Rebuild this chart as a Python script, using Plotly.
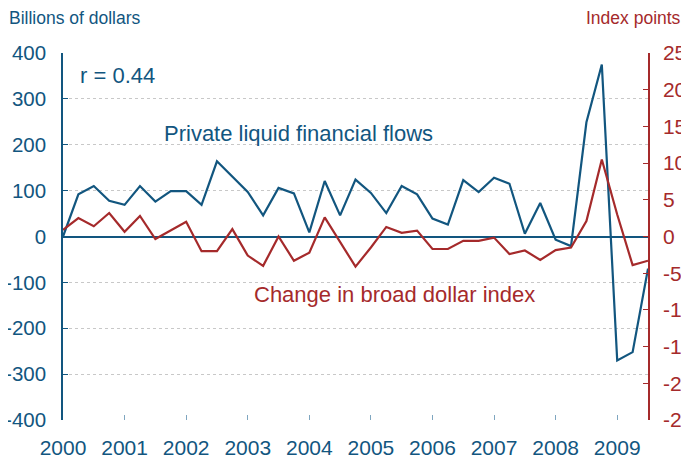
import plotly.graph_objects as go

BLUE = "#12567f"
RED = "#a52a2b"

quarters = [2000 + 0.25 * i for i in range(39)]

flows = [0, 92, 110, 78, 69, 110, 76, 99, 99, 69,
         164, 130, 97, 46, 106, 94, 9, 121, 46, 124,
         95, 51, 110, 92, 39, 26, 123, 97, 128, 115,
         6, 73, -7, -21, 249, 375, -270, -252, -70]

dollar_index = [0.9, 2.5, 1.4, 3.2, 0.65, 2.8, -0.35, 0.8, 2.0, -2.0,
                -2.0, 1.0, -2.6, -4.0, 0.0, -3.3, -2.2, 2.6, -0.8, -4.1,
                -1.5, 1.3, 0.5, 0.8, -1.7, -1.7, -0.6, -0.6, -0.15, -2.4,
                -1.9, -3.2, -1.85, -1.5, 2.1, 10.5, 3.0, -3.9, -3.3]

years = list(range(2000, 2010))
left_ticks = list(range(-400, 401, 100))
right_ticks = list(range(-25, 26, 5))

font = "Liberation Sans, Arial, sans-serif"

# page body adds an 8px margin, so the figure is drawn 8px smaller
fig = go.Figure()
fig.add_scatter(x=quarters, y=dollar_index, yaxis="y2", mode="lines",
                line={"color": RED, "width": 2.2}, showlegend=False)
fig.add_scatter(x=quarters, y=flows, mode="lines",
                line={"color": BLUE, "width": 2.2}, showlegend=False)

fig.update_layout(
    width=681,
    height=452,
    margin={"l": 55, "r": 41, "t": 45, "b": 40, "autoexpand": False},
    paper_bgcolor="white",
    plot_bgcolor="white",
    font={"family": font, "size": 21},
    xaxis={
        "range": [2000, 2009.5],
        "tickvals": years,
        "ticktext": [str(y) for y in years],
        "ticks": "inside",
        "ticklen": 5,
        "tickcolor": "#7fa6c0",
        "tickfont": {"color": BLUE, "size": 21},
        "showgrid": False,
        "zeroline": False,
        "showline": False,
        "automargin": False,
        "ticklabelstandoff": 13,
    },
    yaxis={
        "range": [-400, 400],
        "tickvals": left_ticks,
        "ticktext": [str(v) for v in left_ticks],
        "ticks": "inside",
        "ticklen": 5,
        "tickcolor": BLUE,
        "tickfont": {"color": BLUE, "size": 20.5},
        "showline": True,
        "linecolor": BLUE,
        "linewidth": 1.5,
        "showgrid": True,
        "gridcolor": "#c8c8c8",
        "griddash": "dot",
        "gridwidth": 1,
        "zeroline": True,
        "zerolinecolor": BLUE,
        "zerolinewidth": 1.5,
        "automargin": False,
        "ticklabelstandoff": 11,
    },
    yaxis2={
        "range": [-25, 25],
        "tickvals": right_ticks,
        "ticktext": [str(v) for v in right_ticks],
        "overlaying": "y",
        "side": "right",
        "ticks": "inside",
        "ticklen": 5,
        "tickcolor": RED,
        "tickfont": {"color": RED, "size": 21},
        "showline": True,
        "linecolor": RED,
        "linewidth": 1.5,
        "showgrid": False,
        "zeroline": False,
        "automargin": False,
        "ticklabelstandoff": 9,
    },
    annotations=[
        {"text": "Billions of dollars", "xref": "paper", "yref": "paper",
         "x": -55 / 585, "y": 1 + 35 / 367, "xanchor": "left", "yanchor": "middle",
         "showarrow": False, "font": {"color": BLUE, "size": 17.5}, "xshift": -1},
        {"text": "Index points", "xref": "paper", "yref": "paper",
         "x": 1 + 41 / 585, "y": 1 + 35 / 367, "xanchor": "right", "yanchor": "middle",
         "showarrow": False, "font": {"color": RED, "size": 17.5}, "xshift": -6},
        {"text": "r = 0.44", "xref": "x", "yref": "y", "x": 2000.25, "y": 352,
         "xanchor": "left", "yanchor": "middle", "showarrow": False,
         "font": {"color": BLUE, "size": 22}},
        {"text": "Private liquid financial flows", "xref": "x", "yref": "y",
         "x": 2001.6, "y": 225, "xanchor": "left", "yanchor": "middle",
         "showarrow": False, "font": {"color": BLUE, "size": 22}},
        {"text": "Change in broad dollar index", "xref": "x", "yref": "y",
         "x": 2003.07, "y": -127, "xanchor": "left", "yanchor": "middle",
         "showarrow": False, "font": {"color": RED, "size": 22}},
    ],
)

fig.write_html("out.html")
